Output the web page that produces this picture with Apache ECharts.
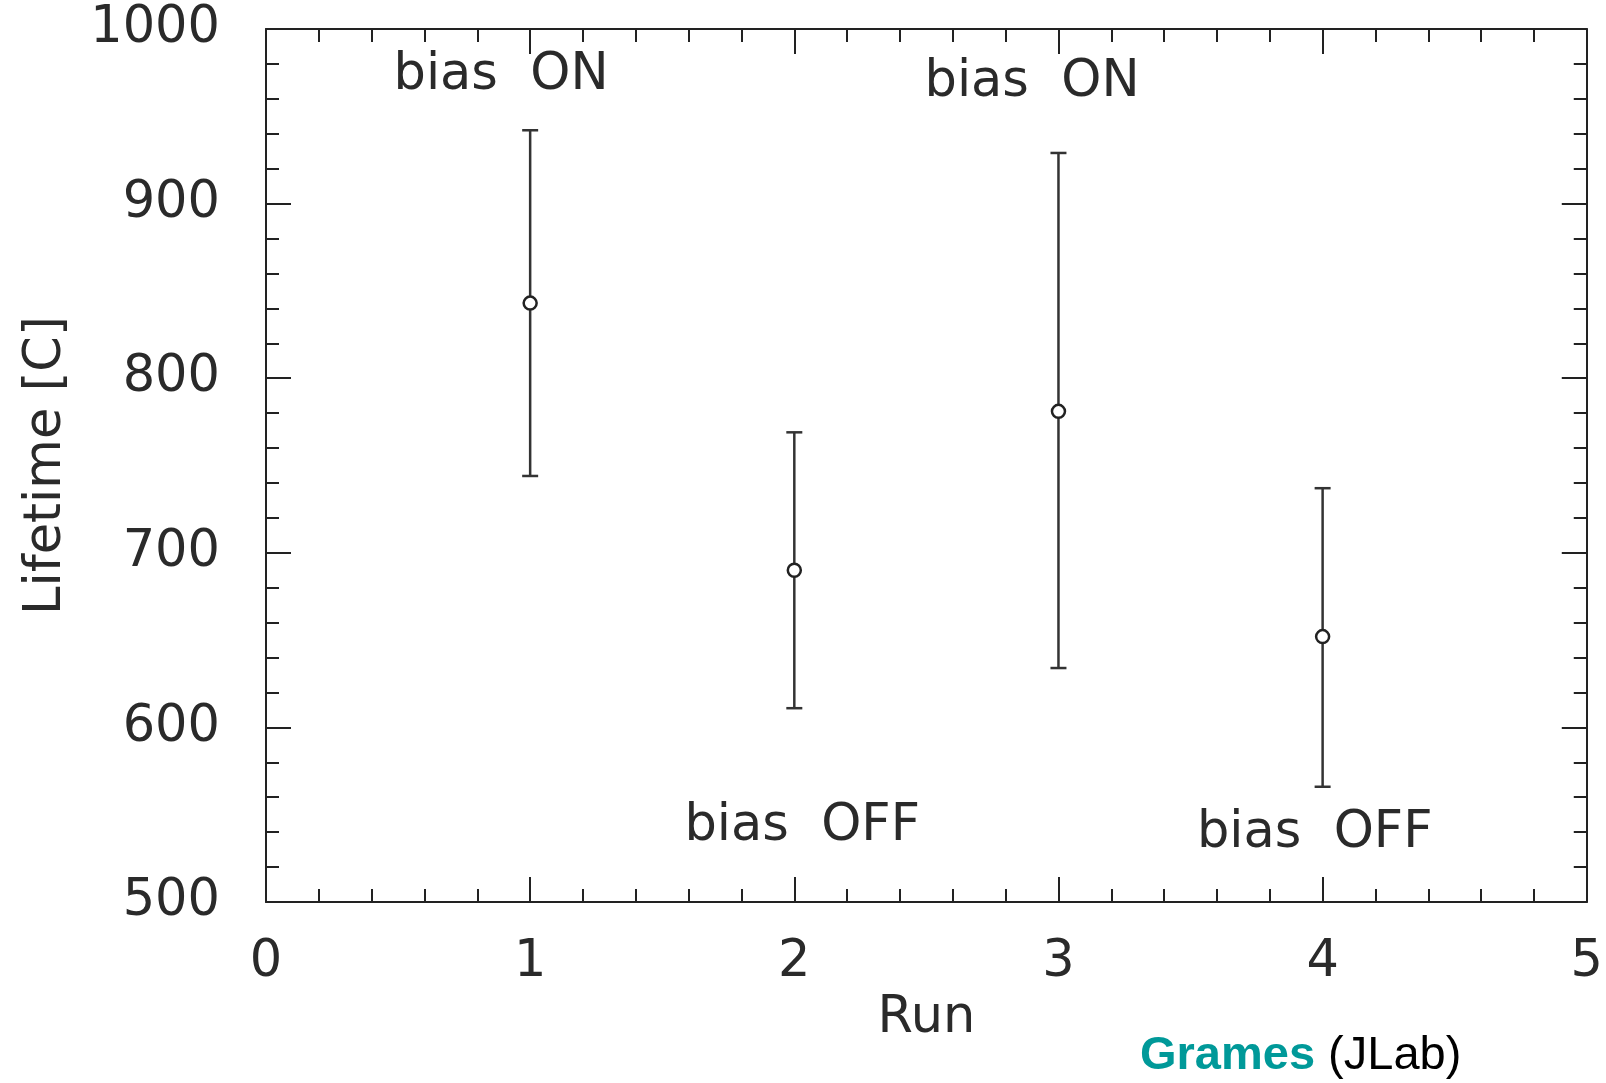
<!DOCTYPE html>
<html>
<head>
<meta charset="utf-8">
<title>Lifetime vs Run</title>
<script src="https://cdn.jsdelivr.net/npm/echarts@6/dist/echarts.min.js"></script>
<style>
  html, body { margin: 0; padding: 0; background: #fff; }
  #chart { width: 1606px; height: 1083px; }
</style>
</head>
<body>
<div id="chart"></div>
<script>
// data
var runs = [1, 2, 3, 4];
var lifetime = [843, 690, 781, 652];
var errUpper = [942, 769, 929, 737];
var errLower = [744, 611, 634, 566];

// annotation text with its place in data units
var noteText = ['bias  ON', 'bias  OFF', 'bias  ON', 'bias  OFF'];
var noteX = [0.89, 2.03, 2.90, 3.97];
var noteY = [973, 543, 969, 539];

var ink = '#222';
var textInk = '#2a2a2a';
var font = 'DejaVu Sans';
var fs = 51;

var points = runs.map(function (r, i) { return [r, lifetime[i]]; });
var bars = runs.map(function (r, i) { return [r, errLower[i], errUpper[i]]; });
var notes = noteText.map(function (t, i) { return { value: [noteX[i], noteY[i]], name: t }; });

function renderErrorBar(params, api) {
    var x = api.value(0);
    var lo = api.coord([x, api.value(1)]);
    var hi = api.coord([x, api.value(2)]);
    var half = 8;
    var style = { stroke: '#333', lineWidth: 2.5 };
    return {
        type: 'group',
        children: [
            { type: 'line', shape: { x1: hi[0], y1: hi[1], x2: lo[0], y2: lo[1] }, style: style },
            { type: 'line', shape: { x1: hi[0] - half, y1: hi[1], x2: hi[0] + half, y2: hi[1] }, style: style },
            { type: 'line', shape: { x1: lo[0] - half, y1: lo[1], x2: lo[0] + half, y2: lo[1] }, style: style }
        ]
    };
}

function frameAxis(extra) {
    var base = {
        axisLine: { show: true, onZero: false, lineStyle: { color: ink, width: 2 } },
        axisTick: { show: true, inside: true, length: 25, lineStyle: { color: ink, width: 2 } },
        minorTick: { show: true, splitNumber: 5, length: 13, lineStyle: { color: ink, width: 2 } },
        splitLine: { show: false },
        minorSplitLine: { show: false }
    };
    for (var k in extra) base[k] = extra[k];
    return base;
}

var myChart = echarts.init(document.getElementById('chart'));
myChart.setOption({
    animation: false,
    backgroundColor: '#fff',
    grid: { left: 266, top: 29, width: 1322, height: 873 },
    xAxis: [
        frameAxis({
            type: 'value', position: 'bottom', min: 0, max: 5, interval: 1,
            name: 'Run', nameLocation: 'middle', nameGap: 88,
            nameTextStyle: { fontFamily: font, fontSize: fs, color: textInk },
            axisLabel: { show: true, margin: 35, fontFamily: font, fontSize: fs, color: textInk,
                formatter: function (v) { return String(v); } }
        }),
        frameAxis({
            type: 'value', position: 'top', min: 0, max: 5, interval: 1,
            axisLabel: { show: false }
        })
    ],
    yAxis: [
        frameAxis({
            type: 'value', position: 'left', min: 500, max: 1000, interval: 100,
            name: 'Lifetime [C]', nameLocation: 'middle', nameGap: 194,
            nameTextStyle: { fontFamily: font, fontSize: fs, color: textInk },
            axisLabel: { show: true, margin: 46, fontFamily: font, fontSize: fs, color: textInk,
                formatter: function (v) { return String(v); } }
        }),
        frameAxis({
            type: 'value', position: 'right', min: 500, max: 1000, interval: 100,
            axisLabel: { show: false }
        })
    ],
    series: [
        {
            type: 'custom',
            xAxisIndex: 0,
            yAxisIndex: 0,
            renderItem: renderErrorBar,
            encode: { x: 0, y: [1, 2] },
            data: bars,
            z: 2
        },
        {
            type: 'scatter',
            xAxisIndex: 0,
            yAxisIndex: 0,
            symbol: 'circle',
            symbolSize: 13,
            itemStyle: { color: '#fff', borderColor: ink, borderWidth: 2.5, opacity: 1 },
            data: points,
            z: 3
        },
        {
            type: 'scatter',
            xAxisIndex: 0,
            yAxisIndex: 0,
            symbolSize: 0,
            silent: true,
            itemStyle: { opacity: 1 },
            label: {
                show: true,
                position: 'inside',
                formatter: '{b}',
                fontFamily: font,
                fontSize: fs,
                color: textInk
            },
            data: notes,
            z: 4
        }
    ],
    graphic: [
        {
            type: 'text',
            left: 1140,
            top: 1033,
            style: {
                text: '{g|Grames}{j| (JLab)}',
                rich: {
                    g: { fontFamily: 'Liberation Sans', fontWeight: 'bold', fontSize: 47, fill: '#009999' },
                    j: { fontFamily: 'Liberation Sans', fontSize: 47, fill: '#000' }
                }
            }
        }
    ]
});
</script>
</body>
</html>
